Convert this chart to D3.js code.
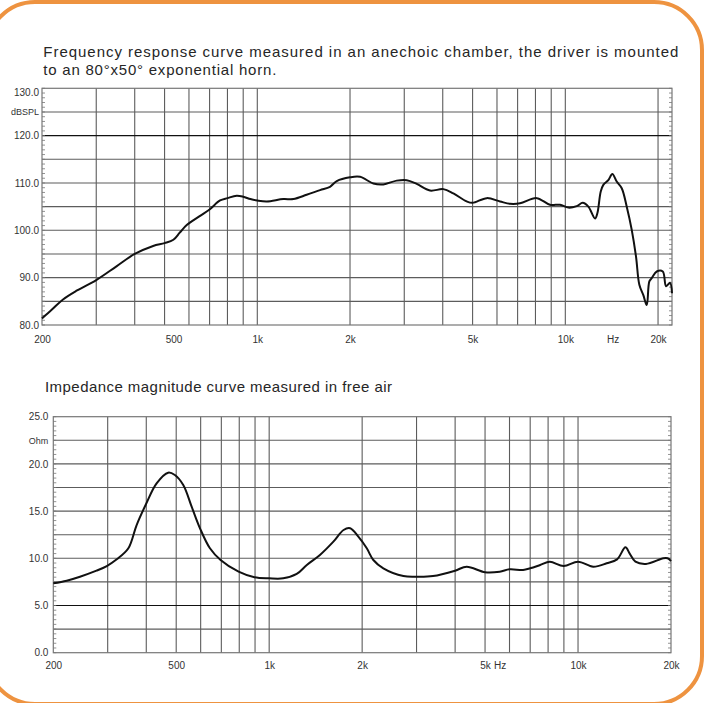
<!DOCTYPE html>
<html>
<head>
<meta charset="utf-8">
<script src="https://cdn.jsdelivr.net/npm/d3@7"></script>
<style>
  html, body { margin: 0; padding: 0; background: #fff; }
  svg { display: block; }
</style>
</head>
<body>
<div id="chart"></div>
<script>
// ---- data ----
const splFreq = [200, 215, 234, 260, 300, 349, 400, 459, 500, 534, 560, 590, 650, 700, 757, 800, 857, 900, 950, 1000,
  1073, 1215, 1309, 1446, 1599, 1722, 1811, 2000, 2156, 2381, 2565, 2836, 3055, 3293, 3637, 4017, 4331, 4784, 5000,
  5558, 6138, 6614, 7128, 8073, 8916, 9614, 10228, 10890, 11390, 11878, 12488, 12706, 13032, 13288, 13792, 14212,
  14688, 15246, 15828, 16430, 16968, 17392, 17920, 18380, 18740, 19080, 19806, 20720, 21240, 21880, 22200];
const splDb = [81.4, 83.2, 85.4, 87.3, 89.5, 92.4, 95.0, 96.7, 97.3, 98.0, 99.5, 101.1, 103.0, 104.4, 106.3, 106.8, 107.3, 107.1, 106.6, 106.3,
  106.1, 106.6, 106.6, 107.5, 108.5, 109.2, 110.4, 111.2, 111.3, 109.9, 109.7, 110.5, 110.6, 109.8, 108.4, 108.7, 107.8, 106.1, 105.8,
  106.8, 106.1, 105.6, 105.7, 106.8, 105.4, 105.4, 104.8, 105.1, 105.8, 105.0, 102.5, 103.6, 108.2, 109.6, 110.6, 111.9,
  110.3, 108.9, 105.0, 100.1, 94.4, 88.5, 86.3, 84.2, 89.2, 89.9, 91.3, 91.3, 88.2, 88.9, 86.7];

const impFreq = [200, 221, 244, 276, 298, 321, 350, 372, 398, 432, 471, 495, 527, 561, 597, 643, 696, 796, 896, 1000,
  1110, 1228, 1324, 1460, 1614, 1741, 1829, 1944, 2070, 2174, 2342, 2720, 3000, 3392, 3998, 4360, 5000, 5580, 6000,
  6640, 7000, 7540, 8100, 8980, 10000, 11200, 12380, 13380, 14240, 14700, 15340, 16600, 18880, 19500, 20000];
const impOhm = [7.35, 7.63, 8.05, 8.69, 9.18, 9.89, 11.06, 13.5, 15.65, 17.94, 19.07, 18.82, 17.76, 15.47, 13.18, 11.06, 9.82, 8.58, 7.99, 7.88,
  7.88, 8.34, 9.29, 10.35, 11.76, 13.0, 13.18, 12.29, 11.06, 9.82, 8.94, 8.12, 8.05, 8.12, 8.69, 9.11, 8.52, 8.58, 8.83,
  8.76, 8.94, 9.29, 9.64, 9.18, 9.64, 9.11, 9.47, 9.89, 11.16, 10.5, 9.64, 9.40, 10.0, 10.0, 9.7];

const gridFreqs = [300, 400, 500, 600, 700, 800, 900, 1000, 2000, 3000, 4000, 5000, 6000, 7000, 8000, 9000, 10000, 20000];
const xTickValues = [200, 500, 1000, 2000, 5000, 10000, 20000];
const xTickLabels = ['200', '500', '1k', '2k', '5k', '10k', '20k'];

const splGridDb = [85, 90, 95, 100, 105, 110, 115, 120, 125];
const splTickValues = [130, 125, 120, 110, 100, 90, 80];
const splTickLabels = ['130.0', 'dBSPL', '120.0', '110.0', '100.0', '90.0', '80.0'];

const impGridOhm = [2.5, 5, 7.5, 10, 12.5, 15, 17.5, 20, 22.5];
const impTickValues = [25, 22.5, 20, 15, 10, 5, 0];
const impTickLabels = ['25.0', 'Ohm', '20.0', '15.0', '10.0', '5.0', '0.0'];

const splTitle = ['Frequency response curve measured  in an anechoic chamber, the driver is mounted',
  'to an 80°x50° exponential horn.'];
const impTitle = 'Impedance  magnitude curve measured in free air';

// ---- page ----
const width = 707, height = 703;
const svg = d3.select('#chart').append('svg')
  .attr('width', width)
  .attr('height', height)
  .style('background', '#fff');

// orange rounded frame (left and bottom edges run off the page)
svg.append('rect')
  .attr('x', -13).attr('y', 2)
  .attr('width', 715).attr('height', 702)
  .attr('rx', 48).attr('ry', 48)
  .attr('fill', 'none')
  .attr('stroke', '#EE9340')
  .attr('stroke-width', 4);

const font = "'Liberation Sans', Arial, sans-serif";
const gridColor = '#5c5c5c';

function title(lines, x, y0, lengths) {
  lines.forEach((t, i) => {
    svg.append('text')
      .attr('x', x).attr('y', y0 + i * 18)
      .attr('textLength', lengths[i])
      .attr('lengthAdjust', 'spacing')
      .style('font-family', font)
      .style('font-size', '15px')
      .attr('fill', '#262626')
      .text(t);
  });
}

function panel(cfg) {
  const x = d3.scaleLog().domain(cfg.fDomain).range([cfg.left, cfg.right]);
  const y = d3.scaleLinear().domain(cfg.yDomain).range([cfg.bottom, cfg.top]);
  const g = svg.append('g');

  // vertical grid
  g.append('g').selectAll('line')
    .data(gridFreqs.filter((f) => f < cfg.fDomain[1]))
    .join('line')
    .attr('x1', (f) => x(f)).attr('x2', (f) => x(f))
    .attr('y1', cfg.top).attr('y2', cfg.bottom)
    .attr('stroke', gridColor)
    .attr('stroke-width', 1.1);

  // horizontal grid
  g.append('g').selectAll('line')
    .data(cfg.grid)
    .join('line')
    .attr('x1', cfg.left).attr('x2', cfg.right)
    .attr('y1', (v) => y(v)).attr('y2', (v) => y(v))
    .attr('stroke', (v) => (v === cfg.darkLine ? '#111' : gridColor))
    .attr('stroke-width', 1.1);

  // minor ticks on both sides, pointing inwards
  const minor = d3.range(cfg.yDomain[0], cfg.yDomain[1] + 1e-9, cfg.minorStep);
  g.append('g').selectAll('line')
    .data(minor)
    .join('line')
    .attr('x1', cfg.left).attr('x2', cfg.left + 3)
    .attr('y1', (v) => y(v)).attr('y2', (v) => y(v))
    .attr('stroke', '#777').attr('stroke-width', 0.8);
  g.append('g').selectAll('line')
    .data(minor)
    .join('line')
    .attr('x1', cfg.right).attr('x2', cfg.right - 3)
    .attr('y1', (v) => y(v)).attr('y2', (v) => y(v))
    .attr('stroke', '#777').attr('stroke-width', 0.8);

  // frame
  g.append('rect')
    .attr('x', cfg.left).attr('y', cfg.top)
    .attr('width', cfg.right - cfg.left).attr('height', cfg.bottom - cfg.top)
    .attr('fill', 'none')
    .attr('stroke', '#777')
    .attr('stroke-width', 1.2);

  // y axis labels
  const yAxis = g.append('g')
    .attr('transform', `translate(${cfg.left},0)`)
    .call(d3.axisLeft(y)
      .tickValues(cfg.yTicks)
      .tickFormat((d, i) => cfg.yLabels[i])
      .tickSize(0)
      .tickPadding(cfg.yPad));
  yAxis.select('.domain').remove();
  yAxis.selectAll('text')
    .style('font-family', font)
    .style('font-size', (d, i) => (isNaN(+cfg.yLabels[i]) ? '9px' : '10px'))
    .attr('fill', '#333')
    .attr('dy', (d) => (d === cfg.yDomain[1] && cfg.nudgeTop ? '0.75em' : '0.32em'));

  // x axis labels
  const xAxis = g.append('g')
    .attr('transform', `translate(0,${cfg.bottom})`)
    .call(d3.axisBottom(x)
      .tickValues(xTickValues)
      .tickFormat((d, i) => xTickLabels[i])
      .tickSize(0)
      .tickPadding(cfg.xPad));
  xAxis.select('.domain').remove();
  xAxis.selectAll('text')
    .style('font-family', font)
    .style('font-size', '10px')
    .attr('fill', '#333')
    .attr('dx', (d) => (d === 500 && cfg.shift500 ? 9 : 0));

  // "Hz" unit label
  g.append('text')
    .attr('x', x(cfg.hzAt) + cfg.hzDx)
    .attr('y', cfg.bottom + cfg.xPad)
    .attr('dy', '0.71em')
    .attr('text-anchor', 'middle')
    .style('font-family', font)
    .style('font-size', '10px')
    .attr('fill', '#333')
    .text('Hz');

  // curve
  const line = d3.line()
    .x((d) => x(d[0]))
    .y((d) => y(d[1]))
    .curve(d3.curveCatmullRom.alpha(0.5));
  g.append('path')
    .datum(d3.zip(cfg.freq, cfg.vals))
    .attr('d', line)
    .attr('fill', 'none')
    .attr('stroke', '#111')
    .attr('stroke-width', 2)
    .attr('stroke-linejoin', 'round');
}

title(splTitle, 43.3, 57, [635, 233]);
panel({
  left: 42, right: 672, top: 88.3, bottom: 325,
  fDomain: [200, 22200], yDomain: [80, 130],
  grid: splGridDb, darkLine: 120, minorStep: 1,
  yTicks: splTickValues, yLabels: splTickLabels, yPad: 3, nudgeTop: true,
  xPad: 11, shift500: true, hzAt: 14300, hzDx: 0,
  freq: splFreq, vals: splDb
});

title([impTitle], 45, 392, [347]);
panel({
  left: 53.3, right: 671, top: 416.7, bottom: 652.7,
  fDomain: [200, 20000], yDomain: [0, 25],
  grid: impGridOhm, darkLine: 5, minorStep: 0.5,
  yTicks: impTickValues, yLabels: impTickLabels, yPad: 5, nudgeTop: false,
  xPad: 9, shift500: false, hzAt: 5000, hzDx: 15,
  freq: impFreq, vals: impOhm
});
</script>
</body>
</html>
